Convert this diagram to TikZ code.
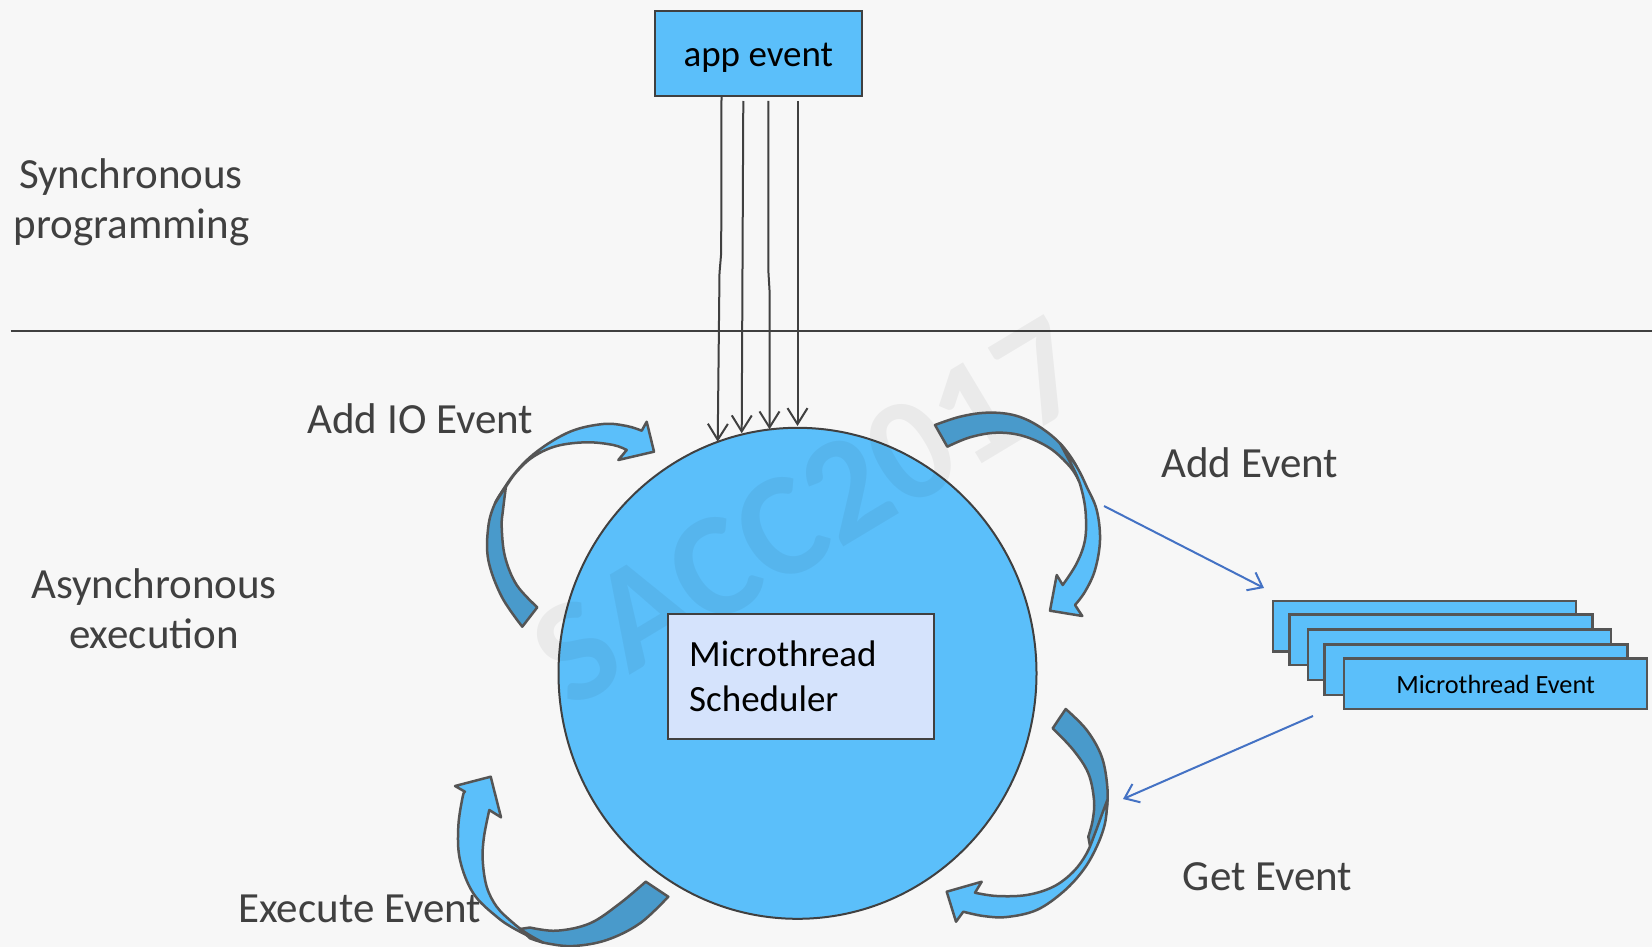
\documentclass[tikz,border=0pt]{standalone}
\usepackage{fontspec}
\setmainfont{Carlito}
\usetikzlibrary{arrows.meta,shapes.geometric}
\definecolor{bg}{HTML}{F7F7F7}
\definecolor{skyb}{RGB}{91,191,250}
\definecolor{darkb}{RGB}{73,154,203}
\definecolor{lav}{RGB}{213,227,252}
\definecolor{edgec}{HTML}{404040}
\definecolor{arredge}{HTML}{555555}
\definecolor{txt}{HTML}{404040}
\definecolor{steel}{RGB}{68,114,196}
\begin{document}
\begin{tikzpicture}[x=1pt,y=-1pt,
  lbl/.style={text=txt,font=\fontsize{43}{50}\selectfont,inner sep=0pt,anchor=base},
  intext/.style={text=black,font=\fontsize{37}{45}\selectfont,inner sep=0pt,anchor=base west},
  bluebox/.style={draw=edgec,fill=skyb,line width=2pt,inner sep=0pt},
  stackbox/.style={draw=arredge,fill=skyb,line width=2.5pt,inner sep=0pt,minimum width=303pt,minimum height=50.5pt},
  varrow/.style={draw=edgec,line width=2pt,-{Straight Barb[length=16pt,width=20pt]}},
  thinarr/.style={draw=steel,line width=2pt,-{Straight Barb[length=13pt,width=20pt]}},
  lightpart/.style={fill=skyb,draw=arredge,line width=2.5pt,line join=round},
  darkpart/.style={fill=darkb,draw=arredge,line width=2.5pt,line join=round}
]
\useasboundingbox (0,0) rectangle (1652,947);
\fill[bg] (0,0) rectangle (1652,947);

% divider
\coordinate (hl) at (10.5,331);
\coordinate (hr) at (1652,331);
\draw[edgec,line width=2pt] (hl) -- (hr);

% side labels
\node[lbl] (sync1) at (131,188) {Synchronous};
\node[lbl] (sync2) at (131.5,238) {programming};
\node[lbl] (async1) at (154,598) {Asynchronous};
\node[lbl] (async2) at (154,648) {execution};
\node[lbl] (addio) at (420.4,433) {Add IO Event};
\node[lbl] (addev) at (1249.7,477) {Add Event};
\node[lbl] (getev) at (1267.6,890) {Get Event};
\node[lbl] (exev) at (359.8,922) {Execute Event};

% app event box
\node[bluebox,minimum width=206.7pt,minimum height=85pt,text=black,
      font=\fontsize{37}{45}\selectfont,text height=29pt,text depth=2pt]
      (appev) at (758.3,53.5) {app event};

% scheduler circle
\node[ellipse,draw=edgec,fill=skyb,line width=2pt,inner sep=0pt,
      minimum width=478pt,minimum height=491pt] (circ) at (797.5,673.3) {};

% watermark
\node[rotate=31,font=\bfseries\fontsize{148}{148}\selectfont,text=black,text opacity=0.05,inner sep=0pt] (wm) at (809,512) {SACC2017};

% scheduler box
\node[draw=edgec,fill=lav,line width=2pt,inner sep=0pt,
      minimum width=265.5pt,minimum height=124.6pt] (sched) at (800.75,676.3) {};
\node[intext] (sched1) at (689,666.7) {Microthread};
\node[intext] (sched2) at (689,711.7) {Scheduler};

% vertical arrows from app event to the circle
\coordinate (s1) at (721.5,96);
\coordinate (s2) at (743.3,101);
\coordinate (s3) at (768.3,101);
\coordinate (s4) at (797.5,101);
\coordinate (e1) at (717.7,441.7);
\coordinate (e2) at (741.7,433.3);
\coordinate (e3) at (769.5,429.3);
\coordinate (e4) at (797.5,426);
\draw[varrow] (s1) -- (721.2,253) -- (719.5,273) -- (e1);
\draw[varrow] (s2) -- (e2);
\draw[varrow] (s3) -- (768.3,270) -- (769.5,290) -- (e3);
\draw[varrow] (s4) -- (e4);

% curved arrow 1 (Add IO Event)
\filldraw[darkpart] plot[smooth,tension=0.6] coordinates {(522.3,626.7) (501.7,596.7) (488.3,560) (488.3,526.7) (495,503.3) (506,486)}
  -- plot[smooth,tension=0.6] coordinates {(506,486) (503,510) (501.7,526.7) (505,556.7) (516.7,585) (537.3,607.3)} -- cycle;
\filldraw[lightpart] plot[smooth,tension=0.6] coordinates {(495,503.3) (513.3,475) (536.7,451.7) (570,431.7) (603.3,424) (626.7,426) (641.7,430.7)}
  -- (646.7,421.7) -- (654,451.7) -- (618.3,460) -- (626.7,450)
  -- plot[smooth,tension=0.6] coordinates {(626.7,450) (613.3,445) (586.7,442.3) (556.7,446) (533.3,456.7) (516.7,471.7) (505,488) (495,503.3)} -- cycle;

% curved arrow 2 (Add Event)
\filldraw[darkpart] plot[smooth,tension=0.6] coordinates {(935,425) (960,416.7) (986.7,412.7) (1013.3,415) (1036.7,425) (1060,443.3) (1076.7,466.7) (1079,481)}
  -- plot[smooth,tension=0.6] coordinates {(1079,481) (1070,466.7) (1050,448.3) (1023.3,436) (996.7,432.7) (970,437.3) (947.3,446.7)} -- cycle;
\filldraw[lightpart] plot[smooth,tension=0.6] coordinates {(1060,443.3) (1076.7,466.7) (1086.7,486.7) (1096.7,510) (1100,540) (1095,570) (1085,591.7) (1075,605)}
  -- (1082.3,616) -- (1050,610.7) -- (1056.7,575) -- (1062.7,585)
  -- plot[smooth,tension=0.6] coordinates {(1062.7,585) (1076.7,563.3) (1085,540) (1085.7,513.3) (1081.7,490) (1075,471.7) (1060,443.3)} -- cycle;

% curved arrow 3 (Get Event)
\filldraw[darkpart] plot[smooth,tension=0.6] coordinates {(1065.7,709) (1086.7,730) (1101.7,756.7) (1107.3,786.7) (1106.7,810) (1102.7,826.7)}
  -- (1090,846)
  -- plot[smooth,tension=0.6] coordinates {(1088.3,836.7) (1092.7,820) (1094,800) (1088.3,773.3) (1073.3,750) (1052.7,728.3)} -- cycle;
\filldraw[lightpart] plot[smooth,tension=0.6] coordinates {(1107.3,800) (1105,823.3) (1096.7,846.7) (1083.3,870) (1063.3,891.7) (1036.7,910) (1006.7,917) (983.3,916) (963.3,911.7)}
  -- (956,921.7) -- (946.7,891.7) -- (981.7,881.7) -- (975,892.7)
  -- plot[smooth,tension=0.6] coordinates {(975,892.7) (996.7,896) (1026.7,895) (1053.3,886.7) (1073.3,871.7) (1086.7,853.3) (1095,833.3) (1101.7,815) (1107.3,800)} -- cycle;

% curved arrow 4 (Execute Event)
\filldraw[darkpart] plot[smooth,tension=0.6] coordinates {(668.3,896.7) (640,923.3) (606.7,940) (573.3,946) (546.7,943.3) (530,938.3)}
  -- (520,929)
  -- plot[smooth,tension=0.6] coordinates {(530,927.5) (556.7,930.7) (590,923.3) (620,903.3) (645.7,881.7)} -- cycle;
\filldraw[lightpart] plot[smooth,tension=0.6] coordinates {(543.3,942.7) (516.7,930) (496.7,916.7) (473.3,893.3) (460,860) (458.3,826.7) (462.7,796.7) (465,791.7)}
  -- (455,786) -- (490.7,776.7) -- (501,817.3) -- (489.3,810)
  -- plot[smooth,tension=0.6] coordinates {(489.3,810) (484,836.7) (482.7,860) (486.7,886.7) (496.7,906.7) (511.7,921.7) (526.7,933.3) (543.3,942.7)} -- cycle;

% stack of microthread events
\node[stackbox] (st1) at (1424.7,626) {};
\node[stackbox] (st2) at (1440.9,639.9) {};
\node[stackbox] (st3) at (1459.4,654.7) {};
\node[stackbox] (st4) at (1476,669.5) {};
\node[stackbox,text=black,font=\fontsize{26.3}{30}\selectfont,text height=21pt,text depth=0.6pt] (st5) at (1495.7,683.5) {Microthread Event};

% thin blue arrows
\coordinate (b1s) at (1104,506);
\coordinate (b1e) at (1264,588);
\coordinate (b2s) at (1313,716);
\coordinate (b2e) at (1123,799);
\draw[thinarr] (b1s) -- (b1e);
\draw[thinarr] (b2s) -- (b2e);
\end{tikzpicture}
\end{document}
